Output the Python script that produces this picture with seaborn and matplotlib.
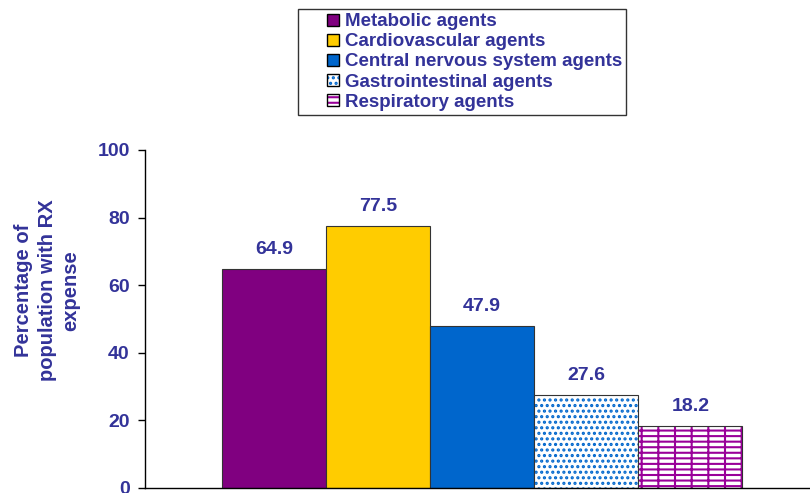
import matplotlib
matplotlib.use("Agg")
import numpy as np
import pandas as pd
import seaborn as sns
from matplotlib import pyplot as plt
from matplotlib.colors import to_rgba
from matplotlib.legend_handler import HandlerPatch
from matplotlib.patches import Patch, Rectangle

# data
categories = ["Metabolic agents", "Cardiovascular agents",
              "Central nervous system agents", "Gastrointestinal agents",
              "Respiratory agents"]
values = [64.9, 77.5, 47.9, 27.6, 18.2]
y_ticks = [0, 20, 40, 60, 80, 100]

fill_colors = ["#800080", "#FFCC00", "#0066CC", "#FFFFFF", "#FFFFFF"]
hatches = [None, None, None, "...", "---|"]
hatch_colors = [None, None, None, "#0066CC", "#990099"]
text_color = "#333399"

sns.set_style("white")
plt.rcParams['font.family'] = ['Liberation Sans', 'DejaVu Sans']
plt.rcParams['hatch.linewidth'] = 1.5


def apply_hatch(patch, hatch, color):
    """Hatch a patch in its own colour while keeping a dark outline."""
    if not hatch:
        return
    patch.set_hatch(hatch)
    patch._hatch_color = to_rgba(color)
    patch.stale = True


def small_square(legend, orig_handle, xdescent, ydescent, width, height, fontsize):
    # small square at the right end of the handle box
    s = 0.64 * fontsize
    return Rectangle((width - s - xdescent, (height - s) / 2 - ydescent), s, s)


df = pd.DataFrame({"category": categories, "value": values})

fig = plt.figure(figsize=(8.1, 4.93), dpi=100)
ax = fig.add_axes([145 / 810, 5 / 493, 1 - 145 / 810, (488 - 150) / 493])

sns.barplot(data=df, x="category", y="value", hue="category",
            palette=fill_colors, width=1.0, dodge=False, legend=False,
            edgecolor="#333333", linewidth=0.8, saturation=1, ax=ax)

for bar, h, hc in zip(ax.patches[:len(categories)], hatches, hatch_colors):
    apply_hatch(bar, h, hc)

for container in ax.containers:
    ax.bar_label(container, fmt="%.1f", padding=8, color=text_color,
                 fontsize=14, fontweight="bold")

ax.set_xlim(-1.24, 5.15)
ax.set_ylim(0, 100)
ax.set_yticks(y_ticks)
ax.set_yticklabels([str(t) for t in y_ticks], color=text_color,
                   fontsize=14, fontweight="bold")
ax.set_xticks([])
ax.set_xlabel("")
ax.set_ylabel("Percentage of\npopulation with RX\nexpense", color=text_color,
              fontsize=14.5, fontweight="bold", linespacing=1.3)
ax.yaxis.label.set_va("center")
ax.yaxis.set_label_coords(-0.147, 0.585)
ax.tick_params(axis="y", direction="out", length=5, width=1, color="black",
               left=True, pad=6)

sns.despine(ax=ax, top=True, right=True)
for side in ["left", "bottom"]:
    ax.spines[side].set_color("black")
    ax.spines[side].set_linewidth(1.0)

# legend with small square swatches
handles = []
for c, h, hc in zip(fill_colors, hatches, hatch_colors):
    p = Patch(facecolor=c, edgecolor="black", linewidth=1.0)
    apply_hatch(p, h, hc)
    handles.append(p)

leg = fig.legend(handles, categories, loc="upper left",
                 bbox_to_anchor=(298 / 810, 1 - 9 / 493),
                 handler_map={Patch: HandlerPatch(patch_func=small_square)},
                 frameon=True, fancybox=False, edgecolor="black",
                 handlelength=1.98, handleheight=0.7, handletextpad=0.3,
                 labelspacing=0.16, borderpad=0.22, borderaxespad=0,
                 prop={"size": 13.5, "weight": "bold"})
leg.get_frame().set_linewidth(1.0)
for t in leg.get_texts():
    t.set_color(text_color)

fig.savefig("out.png", dpi=100)
